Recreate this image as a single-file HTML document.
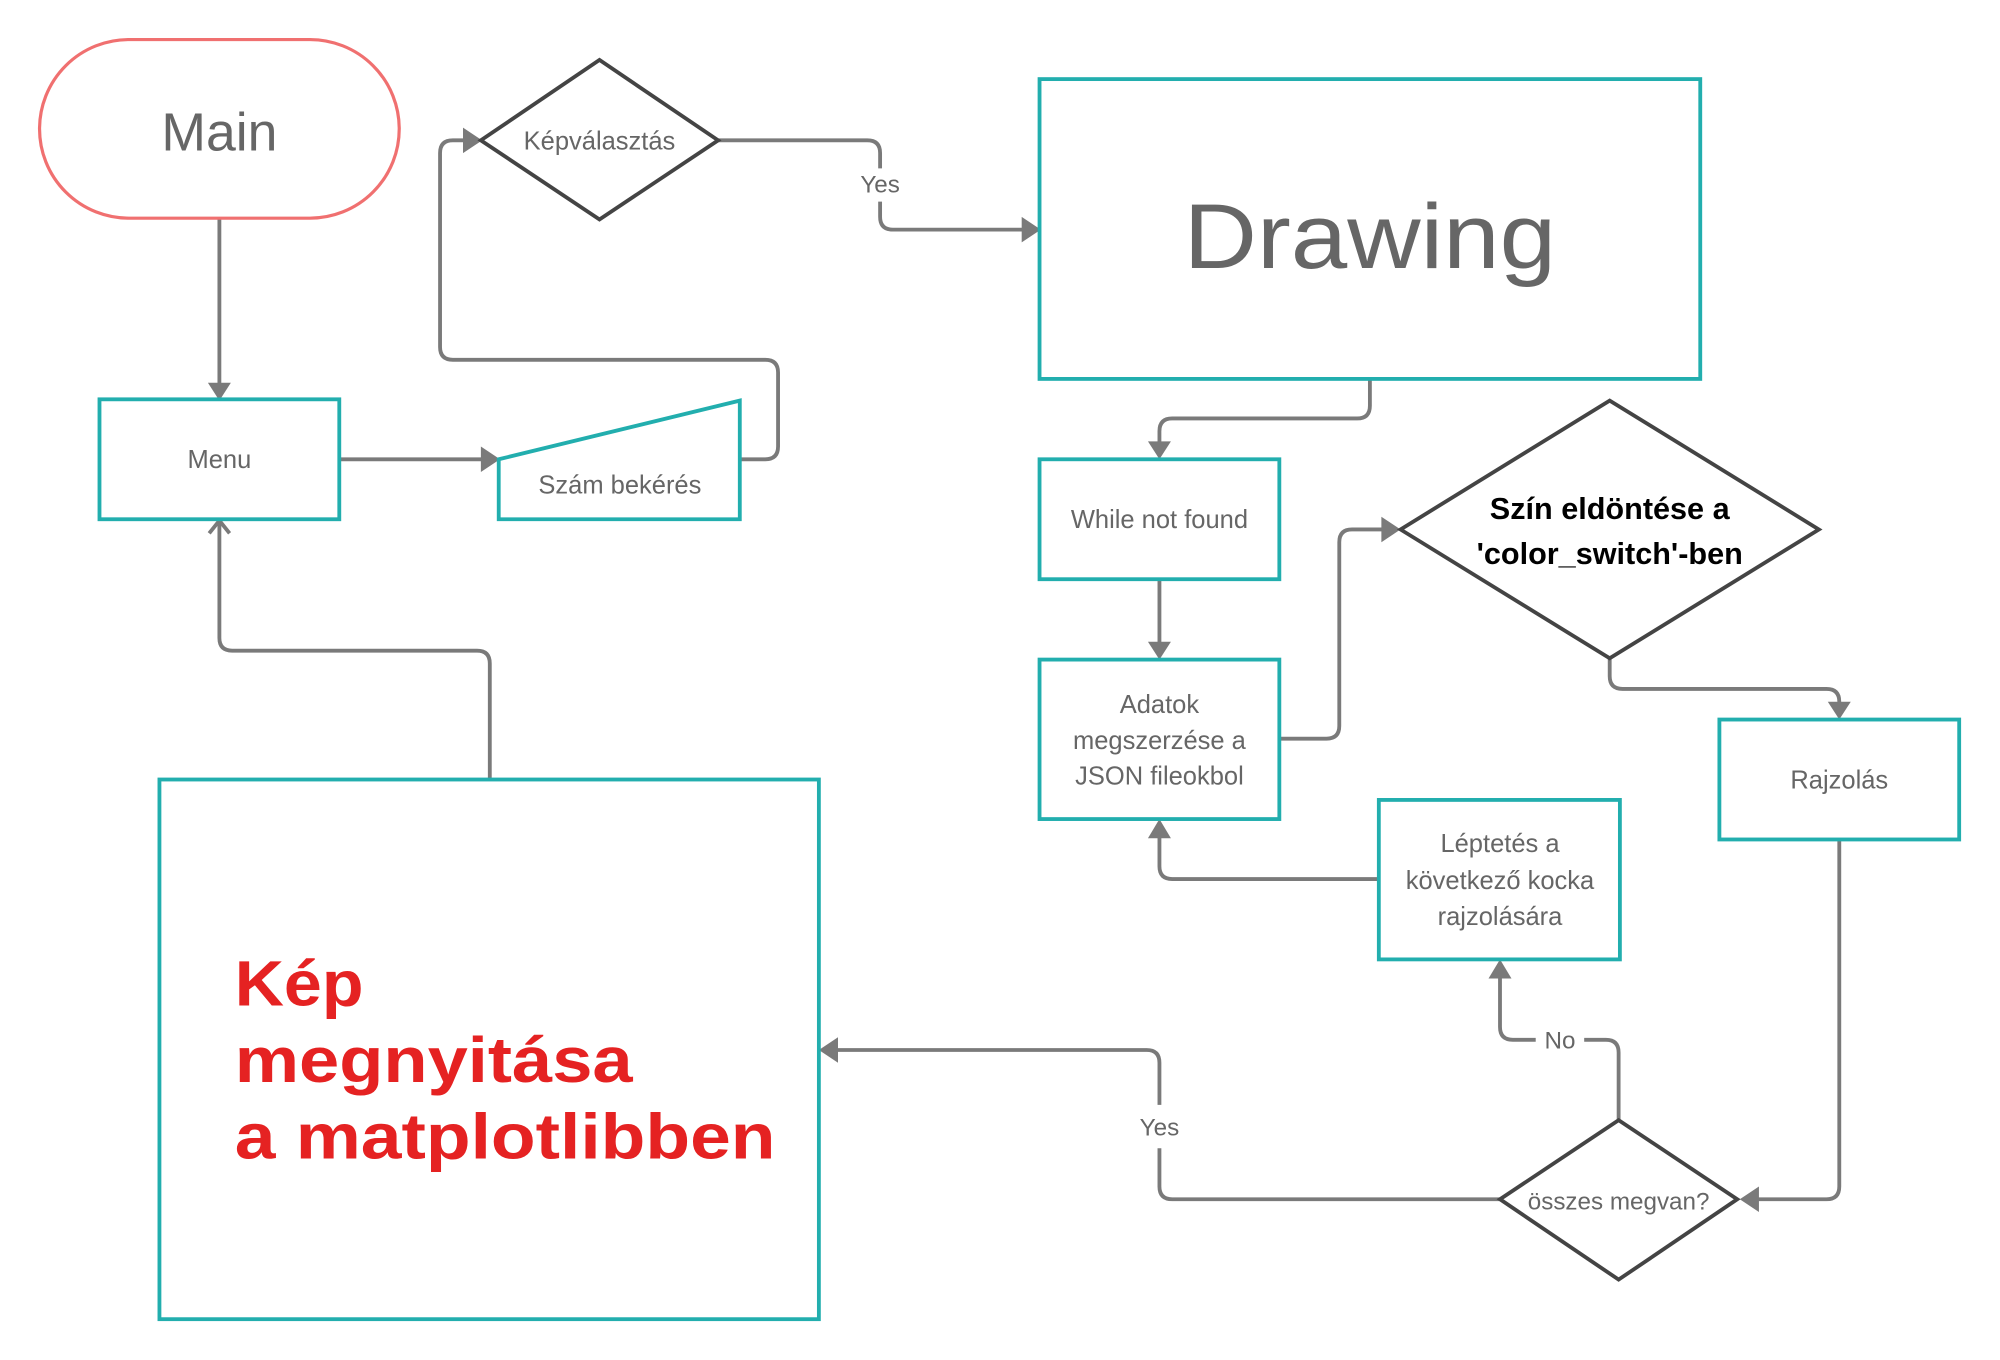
<!DOCTYPE html>
<html><head><meta charset="utf-8"><style>
html,body{margin:0;padding:0;background:#fff;}
svg{display:block;}
text{font-family:"Liberation Sans","DejaVu Sans",sans-serif;fill:#666;text-anchor:middle;}
.t{fill:none;stroke:#22aeae;stroke-width:3;}
.d{fill:#fff;stroke:#444;stroke-width:3;}
.c{fill:none;stroke:#7a7a7a;stroke-width:3;stroke-linejoin:round;}
.a{fill:#7a7a7a;}
</style></head><body>
<svg width="2000" height="1360" viewBox="0 0 1568 1066" preserveAspectRatio="none" xmlns="http://www.w3.org/2000/svg">
<rect x="0" y="0" width="1568" height="1066" fill="#fff"/>
<!-- connectors -->
<path class="c" d="M172 171 V302"/>
<polygon class="a" points="163,300 181,300 172,314"/>
<path class="c" d="M266 360 H380"/>
<polygon class="a" points="377,350 377,370 392,360"/>
<path class="c" d="M580 360 H600 Q610 360 610 350 V292 Q610 282 600 282 H355 Q345 282 345 272 V120 Q345 110 355 110 H366"/>
<polygon class="a" points="363,100 363,120 378,110"/>
<path class="c" d="M563 110 H680 Q690 110 690 120 V132"/>
<path class="c" d="M690 158 V170 Q690 180 700 180 H804"/>
<polygon class="a" points="801,170 801,190 816,180"/>
<text x="690" y="151" font-size="19">Yes</text>
<path class="c" d="M1074 297 V318 Q1074 328 1064 328 H919 Q909 328 909 338 V349"/>
<polygon class="a" points="900,346 918,346 909,360"/>
<path class="c" d="M909 454 V506"/>
<polygon class="a" points="900,503 918,503 909,517"/>
<path class="c" d="M1003 579 H1040 Q1050 579 1050 569 V425 Q1050 415 1060 415 H1086"/>
<polygon class="a" points="1083,405 1083,425 1098,415"/>
<path class="c" d="M1262 516 V530 Q1262 540 1272 540 H1432 Q1442 540 1442 550 V553"/>
<polygon class="a" points="1433,550 1451,550 1442,564"/>
<path class="c" d="M1442 658 V930 Q1442 940 1432 940 H1376"/>
<polygon class="a" points="1379,930 1379,950 1364,940"/>
<path class="c" d="M1269 878 V825 Q1269 815 1259 815 H1242"/>
<path class="c" d="M1204 815 H1186 Q1176 815 1176 805 V764"/>
<polygon class="a" points="1167,767 1185,767 1176,752"/>
<text x="1223" y="822" font-size="19">No</text>
<path class="c" d="M1081 689 H919 Q909 689 909 679 V654"/>
<polygon class="a" points="900,657 918,657 909,642"/>
<path class="c" d="M1176 940 H919 Q909 940 909 930 V900"/>
<path class="c" d="M909 866 V833 Q909 823 899 823 H654"/>
<polygon class="a" points="657,813 657,833 642,823"/>
<text x="909" y="890" font-size="19">Yes</text>
<path class="c" d="M384 611 V520 Q384 510 374 510 H182 Q172 510 172 500 V408"/>
<path class="c" d="M164 418 L172 408 L180 418"/>
<!-- shapes -->
<rect x="31" y="31" width="282" height="140" rx="70" ry="70" fill="#fff" stroke="#f07070" stroke-width="2.5"/>
<text x="172" y="118" font-size="42">Main</text>
<rect class="t" x="78" y="313" width="188" height="94"/>
<text x="172" y="367" font-size="20">Menu</text>
<polygon class="t" points="391,360 580,314 580,407 391,407"/>
<text x="486" y="387" font-size="20">Szám bekérés</text>
<polygon class="d" points="377,110 470,47 563,110 470,172"/>
<text x="470" y="117" font-size="20">Képválasztás</text>
<rect class="t" x="815" y="62" width="518" height="235"/>
<text x="1074" y="210" font-size="72" textLength="292" lengthAdjust="spacingAndGlyphs">Drawing</text>
<rect class="t" x="815" y="360" width="188" height="94"/>
<text x="909" y="414" font-size="20">While not found</text>
<rect class="t" x="815" y="517" width="188" height="125"/>
<text x="909" y="559" font-size="20">Adatok</text>
<text x="909" y="587" font-size="20">megszerzése a</text>
<text x="909" y="615" font-size="20">JSON fileokbol</text>
<polygon class="d" points="1098,415 1262,314 1426,415 1262,516"/>
<text x="1262" y="407" font-size="24" font-weight="bold" style="fill:#000">Szín eldöntése a</text>
<text x="1262" y="442" font-size="24" font-weight="bold" style="fill:#000">'color_switch'-ben</text>
<rect class="t" x="1348" y="564" width="188" height="94"/>
<text x="1442" y="618" font-size="20">Rajzolás</text>
<rect class="t" x="1081" y="627" width="189" height="125"/>
<text x="1176" y="668" font-size="20">Léptetés a</text>
<text x="1176" y="697" font-size="20">következő kocka</text>
<text x="1176" y="725" font-size="20">rajzolására</text>
<polygon class="d" points="1176,940 1269,878 1362,940 1269,1003"/>
<text x="1269" y="948" font-size="19">összes megvan?</text>
<rect class="t" x="125" y="611" width="517" height="423"/>
<text x="184" y="788" font-size="50" font-weight="bold" textLength="101" lengthAdjust="spacingAndGlyphs" style="fill:#e52222;text-anchor:start">Kép</text>
<text x="184" y="848" font-size="50" font-weight="bold" textLength="312" lengthAdjust="spacingAndGlyphs" style="fill:#e52222;text-anchor:start">megnyitása</text>
<text x="184" y="908" font-size="50" font-weight="bold" textLength="424" lengthAdjust="spacingAndGlyphs" style="fill:#e52222;text-anchor:start">a matplotlibben</text>
</svg>
</body></html>
